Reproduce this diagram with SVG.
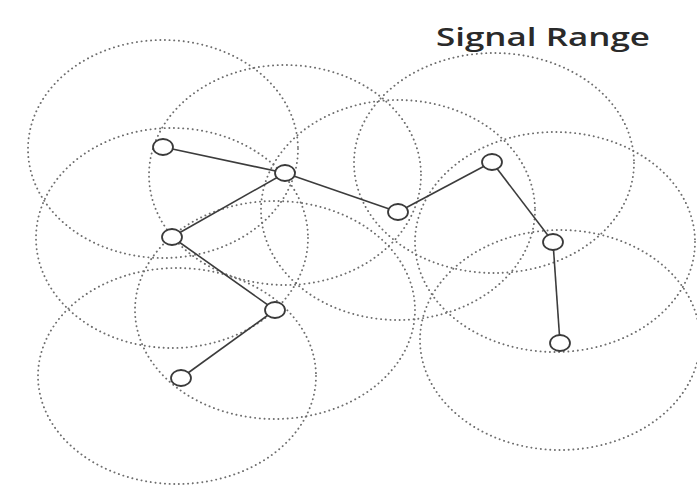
<svg xmlns="http://www.w3.org/2000/svg" width="697" height="495" viewBox="0 0 697 495">
  <style>
    .range { fill: none; stroke: #6e6e6e; stroke-width: 1.9; stroke-dasharray: 0.1 4.6; stroke-linecap: round; }
    .link { stroke: #3c3c3c; stroke-width: 1.6; fill: none; }
    .node { fill: #ffffff; stroke: #3a3a3a; stroke-width: 1.8; }
    .title { font-family: "Open Sans", "Liberation Sans", sans-serif; font-size: 26px; font-weight: 600; fill: #2a2a2a; }
  </style>
  <rect width="697" height="495" fill="#ffffff"/>

  <!-- signal range of each node -->
  <g id="ranges">
    <ellipse class="range" cx="163" cy="149" rx="135" ry="109"/>
    <ellipse class="range" cx="285" cy="175" rx="136" ry="110"/>
    <ellipse class="range" cx="172" cy="238" rx="136" ry="110"/>
    <ellipse class="range" cx="398" cy="210" rx="137" ry="110"/>
    <ellipse class="range" cx="494" cy="163" rx="140" ry="110"/>
    <ellipse class="range" cx="555" cy="242" rx="140" ry="110"/>
    <ellipse class="range" cx="275" cy="310" rx="140" ry="109"/>
    <ellipse class="range" cx="177" cy="376" rx="139" ry="108"/>
    <ellipse class="range" cx="560" cy="340" rx="140" ry="110"/>
  </g>

  <!-- links between neighbouring nodes -->
  <g id="connectors">
    <line class="link" x1="163" y1="147" x2="285" y2="173"/>
    <line class="link" x1="285" y1="173" x2="172" y2="237"/>
    <line class="link" x1="285" y1="173" x2="398" y2="212"/>
    <line class="link" x1="398" y1="212" x2="492" y2="162"/>
    <line class="link" x1="492" y1="162" x2="553" y2="242"/>
    <line class="link" x1="553" y1="242" x2="560" y2="343"/>
    <line class="link" x1="172" y1="237" x2="275" y2="310"/>
    <line class="link" x1="275" y1="310" x2="181" y2="378"/>
  </g>

  <g id="node-a"><ellipse class="node" cx="163" cy="147" rx="10" ry="8"/></g>
  <g id="node-b"><ellipse class="node" cx="285" cy="173" rx="10" ry="8"/></g>
  <g id="node-c"><ellipse class="node" cx="172" cy="237" rx="10" ry="8"/></g>
  <g id="node-d"><ellipse class="node" cx="398" cy="212" rx="10" ry="8"/></g>
  <g id="node-e"><ellipse class="node" cx="492" cy="162" rx="10" ry="8"/></g>
  <g id="node-f"><ellipse class="node" cx="553" cy="242" rx="10" ry="8"/></g>
  <g id="node-g"><ellipse class="node" cx="275" cy="310" rx="10" ry="8"/></g>
  <g id="node-h"><ellipse class="node" cx="181" cy="378" rx="10" ry="8"/></g>
  <g id="node-i"><ellipse class="node" cx="560" cy="343" rx="10" ry="8"/></g>

  <g id="label">
    <text class="title" x="436" y="46" textLength="214" lengthAdjust="spacingAndGlyphs">Signal Range</text>
  </g>
</svg>
